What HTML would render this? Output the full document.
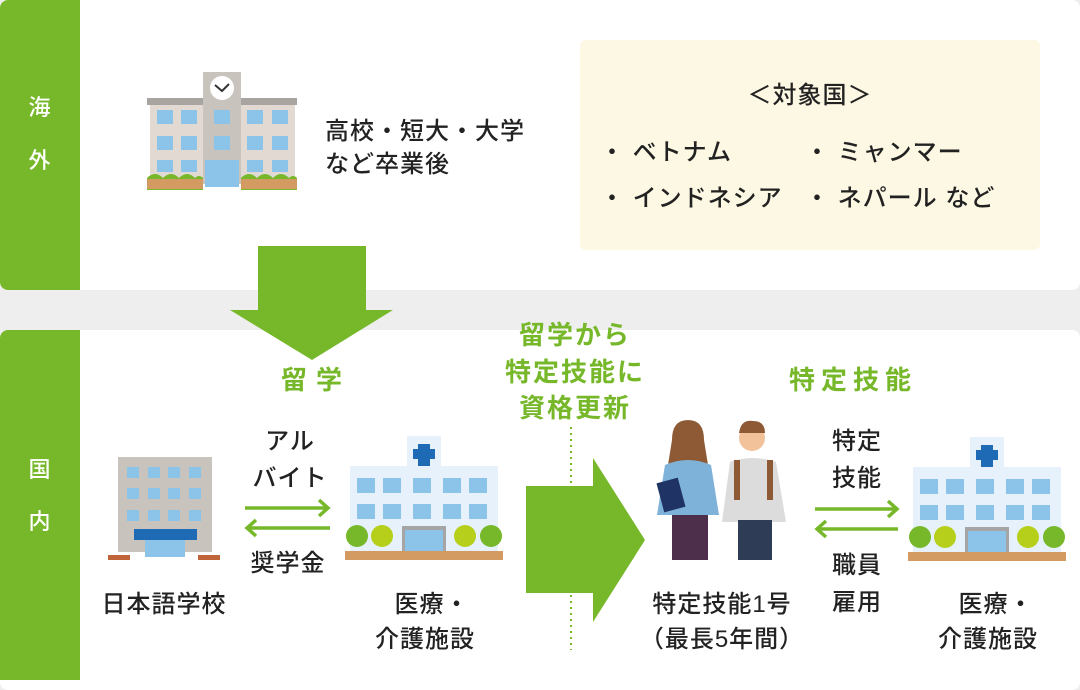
<!DOCTYPE html>
<html><head><meta charset="utf-8"><style>
body{margin:0;width:1080px;height:680px;background:#eeeeee;position:relative;overflow:hidden;font-family:"Liberation Sans","Noto Sans CJK JP",sans-serif;color:#222}
.p{position:absolute;background:#fff;border-radius:8px}
.t{position:absolute;white-space:nowrap;transform:translate(-50%,-50%);font-size:24px;line-height:1;font-weight:500;letter-spacing:1px}
.g{color:#77b82a;font-weight:700;font-size:26px;letter-spacing:2px}
.w{color:#fff;font-size:22px}
.l{position:absolute;white-space:nowrap;font-size:24px;line-height:1;font-weight:500;letter-spacing:1px}
</style></head><body>
<div class="p" style="left:0;top:0;width:1080px;height:290px"></div>
<div class="p" style="left:0;top:330px;width:1080px;height:360px"></div>
<div style="position:absolute;left:0;top:0;width:80px;height:290px;background:#77b82a;border-radius:8px 0 0 8px"></div>
<div style="position:absolute;left:0;top:330px;width:80px;height:350px;background:#77b82a;border-radius:8px 0 0 0"></div>
<div class="t w" style="left:40px;top:108px">海</div>
<div class="t w" style="left:40px;top:161px">外</div>
<div class="t w" style="left:40px;top:470px">国</div>
<div class="t w" style="left:40px;top:522px">内</div>
<div style="position:absolute;left:580px;top:40px;width:460px;height:210px;background:#fdf8e3;border-radius:6px"></div>
<div class="t" style="left:810px;top:96px">＜対象国＞</div>
<div class="l" style="left:600px;top:141px">・ ベトナム</div>
<div class="l" style="left:805px;top:141px">・ ミャンマー</div>
<div class="l" style="left:600px;top:187px">・ インドネシア</div>
<div class="l" style="left:805px;top:187px">・ ネパール など</div>
<div class="l" style="left:325px;top:115px;line-height:33px">高校・短大・大学<br>など卒業後</div>
<svg width="1080" height="680" style="position:absolute;left:0;top:0">
<defs>
<g id="hosp">
<rect x="62" y="0" width="34" height="32" fill="#e6f1fb"/>
<rect x="73" y="8" width="12" height="22" fill="#1f6ab5"/><rect x="68" y="13" width="22" height="10" fill="#1f6ab5"/>
<rect x="5" y="30" width="148" height="88" fill="#e6f1fb"/>
<g fill="#8cc3e8">
<rect x="12" y="42" width="18" height="15"/><rect x="38" y="42" width="18" height="15"/><rect x="68" y="42" width="18" height="15"/><rect x="98" y="42" width="18" height="15"/><rect x="124" y="42" width="18" height="15"/>
<rect x="12" y="68" width="18" height="15"/><rect x="38" y="68" width="18" height="15"/><rect x="68" y="68" width="18" height="15"/><rect x="98" y="68" width="18" height="15"/><rect x="124" y="68" width="18" height="15"/>
</g>
<rect x="57" y="90" width="44" height="30" fill="#a5a5a5"/><rect x="60" y="94" width="38" height="26" fill="#8cc3e8"/>
<rect x="0" y="115" width="158" height="9" fill="#d39b62"/>
<circle cx="12" cy="100" r="11" fill="#77b82a"/><circle cx="37" cy="100" r="11" fill="#b5cf1a"/><circle cx="120" cy="100" r="11" fill="#b5cf1a"/><circle cx="146" cy="100" r="11" fill="#77b82a"/>
</g>
</defs>
<use href="#hosp" x="345" y="436"/>
<use href="#hosp" x="908" y="437"/>
<rect x="118" y="457" width="94" height="95" fill="#c9c3bd"/>
<g fill="#8cc3e8">
<rect x="127" y="467" width="12" height="11"/><rect x="148" y="467" width="12" height="11"/><rect x="168" y="467" width="12" height="11"/><rect x="189" y="467" width="12" height="11"/>
<rect x="127" y="488" width="12" height="11"/><rect x="148" y="488" width="12" height="11"/><rect x="168" y="488" width="12" height="11"/><rect x="189" y="488" width="12" height="11"/>
<rect x="127" y="510" width="12" height="11"/><rect x="148" y="510" width="12" height="11"/><rect x="168" y="510" width="12" height="11"/><rect x="189" y="510" width="12" height="11"/>
<rect x="145" y="540" width="40" height="17"/></g>
<rect x="134" y="529" width="63" height="11" fill="#1f6ab5"/>
<rect x="108" y="555" width="22" height="5" fill="#c0643a"/><rect x="198" y="555" width="22" height="5" fill="#c0643a"/>
<rect x="150" y="103" width="145" height="80" fill="#e2dad2"/>
<rect x="147" y="98" width="150" height="7" fill="#a8a49f"/>
<rect x="203" y="72" width="38" height="112" fill="#c9c3bd"/>
<circle cx="222" cy="88" r="12" fill="#fff"/><path d="M215 85 L222 91 L229 84" stroke="#333" stroke-width="2" fill="none"/>
<g fill="#8cc3e8">
<rect x="157" y="110" width="16" height="14"/><rect x="181" y="110" width="16" height="14"/><rect x="214" y="110" width="16" height="14"/><rect x="247" y="110" width="16" height="14"/><rect x="272" y="110" width="16" height="14"/>
<rect x="157" y="136" width="16" height="14"/><rect x="181" y="136" width="16" height="14"/><rect x="214" y="136" width="16" height="14"/><rect x="247" y="136" width="16" height="14"/><rect x="272" y="136" width="16" height="14"/>
<rect x="157" y="160" width="16" height="12"/><rect x="181" y="160" width="16" height="12"/><rect x="247" y="160" width="16" height="12"/><rect x="272" y="160" width="16" height="12"/>
<rect x="205" y="160" width="34" height="27"/></g>
<path d="M147 178 q8 -8 16 0 q8 -8 16 0 q8 -8 16 0 q4 -4 8 0 v12 h-56z" fill="#77b82a"/>
<path d="M241 178 q8 -8 16 0 q8 -8 16 0 q8 -8 16 0 q4 -4 8 0 v12 h-56z" fill="#77b82a"/>
<rect x="147" y="179" width="56" height="10" fill="#d39b62"/><rect x="241" y="179" width="56" height="10" fill="#d39b62"/>
<circle cx="688" cy="440" r="14" fill="#f2c29b"/><path d="M672 440 q0 -20 16 -20 q16 0 16 20 l4 25 h-40z" fill="#8e5a36"/>
<path d="M665 465 q23 -10 46 0 l8 50 h-62z" fill="#7fb2d8"/>
<rect x="672" y="515" width="36" height="45" fill="#4e2f4b"/>
<rect x="660" y="480" width="22" height="30" fill="#1f3464" transform="rotate(-15 671 495)"/>
<circle cx="752" cy="438" r="13" fill="#f2c29b"/><path d="M739 433 q2 -14 14 -12 q12 0 12 12z" fill="#8e5a36"/>
<path d="M730 462 q22 -8 46 0 l10 60 h-64z" fill="#dcdcdc"/>
<rect x="734" y="460" width="6" height="40" fill="#8e5a36"/><rect x="767" y="460" width="6" height="40" fill="#8e5a36"/>
<rect x="738" y="520" width="34" height="40" fill="#2f3c55"/>
<path d="M258 246 H366 V310 H393 L312 360 L230 310 H258 Z" fill="#77b82a"/>
<path d="M526 486 H593 V458 L645 540 L593 622 V593 H526 Z" fill="#77b82a"/>
<line x1="571" y1="427" x2="571" y2="650" stroke="#77b82a" stroke-width="2" stroke-dasharray="2 4"/>
<g stroke="#77b82a" stroke-width="3.5" fill="none">
<path d="M245 508 H328 M319 500 L328 508 L319 516"/><path d="M330 528 H247 M256 520 L247 528 L256 536"/>
<path d="M815 509 H897 M888 501 L897 509 L888 517"/><path d="M898 529 H817 M826 521 L817 529 L826 537"/>
</g>
</svg>
<div class="t g" style="left:316px;top:380px;letter-spacing:9px">留学</div>
<div class="t g" style="left:575px;top:335px">留学から</div>
<div class="t g" style="left:575px;top:372px">特定技能に</div>
<div class="t g" style="left:575px;top:408px">資格更新</div>
<div class="t g" style="left:853px;top:380px;letter-spacing:6px">特定技能</div>
<div class="t" style="left:290px;top:442px">アル</div>
<div class="t" style="left:290px;top:479px">バイト</div>
<div class="t" style="left:288px;top:564px">奨学金</div>
<div class="t" style="left:164px;top:605px">日本語学校</div>
<div class="t" style="left:432px;top:605px">医療・</div>
<div class="t" style="left:425px;top:640px">介護施設</div>
<div class="t" style="left:722px;top:605px">特定技能1号</div>
<div class="t" style="left:722px;top:640px">（最長5年間）</div>
<div class="t" style="left:857px;top:442px">特定</div>
<div class="t" style="left:857px;top:479px">技能</div>
<div class="t" style="left:857px;top:566px">職員</div>
<div class="t" style="left:857px;top:603px">雇用</div>
<div class="t" style="left:996px;top:605px">医療・</div>
<div class="t" style="left:988px;top:640px">介護施設</div>
</body></html>
